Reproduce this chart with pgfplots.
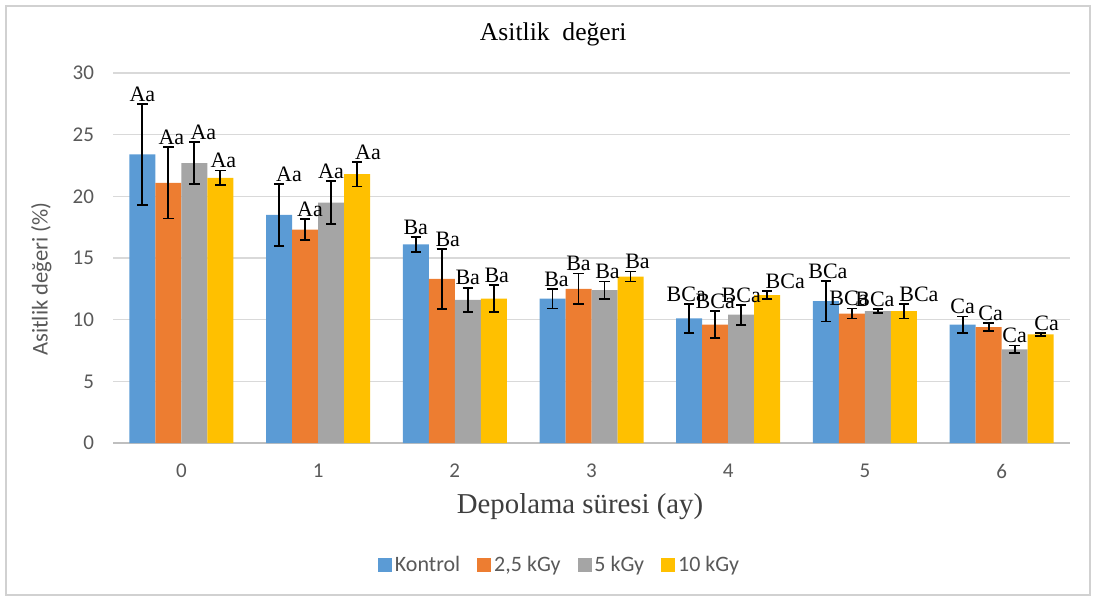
\documentclass[border=0pt]{standalone}
\usepackage{fontspec}
\setmainfont{Liberation Serif}
\newfontfamily\calfont{Carlito}
\usepackage{pgfplots}
\usepackage{pgfplotstable}
\pgfplotsset{compat=1.18}

\definecolor{cKon}{HTML}{5B9BD5}
\definecolor{cTwo}{HTML}{ED7D31}
\definecolor{cFive}{HTML}{A5A5A5}
\definecolor{cTen}{HTML}{FFC000}
\definecolor{txtgray}{HTML}{595959}

\pgfplotsset{
  sdbars/.style={
    error bars/y dir=both, error bars/y explicit,
    error bars/error bar style={line width=0.9pt, black},
    error bars/error mark options={rotate=90, mark size=2.6pt, line width=0.9pt, black},
  },
}

% columns: storage month, mean, standard deviation, letter group,
% horizontal nudge of the letter label (pt)
\pgfplotstableread{
x y e lab dx
0 23.4 4.1 Aa 0
1 18.5 2.5 Aa 5
2 16.1 0.6 Ba 0
3 11.7 0.8 Ba 2
4 10.1 1.15 BCa -1.5
5 11.5 1.65 BCa 1
6 9.6 0.65 Ca 0
}\kontrol
\pgfplotstableread{
x y e lab dx
0 21.1 2.9 Aa 1.5
1 17.3 0.85 Aa 2.5
2 13.3 2.45 Ba 3
3 12.5 1.25 Ba 0
4 9.6 1.1 BCa 0
5 10.5 0.4 BCa -1.5
6 9.4 0.35 Ca 1
}\twofive
\pgfplotstableread{
x y e lab dx
0 22.7 1.7 Aa 4.5
1 19.5 1.75 Aa 0
2 11.6 1.0 Ba 0
3 12.4 0.7 Ba 1.5
4 10.4 0.8 BCa 0
5 10.7 0.15 BCa -1.5
6 7.6 0.3 Ca 0
}\five
\pgfplotstableread{
x y e lab dx
0 21.5 0.6 Aa 1.5
1 21.8 1.0 Aa 5.5
2 11.7 1.1 Ba 1.5
3 13.5 0.4 Ba 3.5
4 12.0 0.35 BCa 9
5 10.7 0.6 BCa 7.5
6 8.8 0.15 Ca 3
}\ten

\begin{document}
\begin{tikzpicture}
\useasboundingbox (-56.5pt,-78.5pt) rectangle (491.5pt,221.5pt);
\draw[draw=black!18, line width=0.6pt] (-53.5pt,-76pt) rectangle (488.5pt,218.5pt);
\begin{axis}[
  at={(0pt,0pt)}, anchor=south west,
  scale only axis, width=478.5pt, height=185pt,
  ybar=0pt, bar width=13pt,
  xmin=-0.5, xmax=6.5, ymin=0, ymax=30,
  xtick={0,...,6}, ytick={0,5,...,30},
  axis x line*=bottom, axis y line*=left,
  axis line style={-},
  x axis line style={draw=black!25, line width=0.6pt},
  y axis line style={draw=none},
  major tick length=0pt,
  ymajorgrids, grid style={draw=black!15, line width=0.6pt},
  /pgf/number format/assume math mode=true,
  ticklabel style={font=\calfont\fontsize{10.5}{12}\selectfont, text=txtgray},
  yticklabel style={xshift=-6pt},
  xticklabel style={yshift=-7pt},
  title={Asitlik\ \ değeri},
  title style={font=\fontsize{12.8}{15}\selectfont, at={(axis description cs:0.46,1.073)}, anchor=center},
  xlabel={Depolama süresi (ay)},
  xlabel style={font=\fontsize{14.4}{16}\selectfont, text=txtgray!70!black, at={(axis description cs:0.488,-0.173)}, anchor=center},
  ylabel={Asitlik değeri (\%)},
  ylabel style={font=\calfont\fontsize{11.3}{13}\selectfont, text=txtgray, at={(axis description cs:-0.075,0.443)}, anchor=center},
  legend columns=4,
  legend style={at={(axis description cs:0.467,-0.33)}, anchor=center, draw=none,
    font=\calfont\fontsize{11}{13}\selectfont, text=txtgray,
    nodes={inner xsep=1.5pt},
    /tikz/every even column/.append style={column sep=7pt}},
  legend image code/.code={\fill[#1, draw=none] (0pt,-3.5pt) rectangle (7pt,3.5pt);},
  nodes near coords,
  point meta=explicit symbolic,
  visualization depends on={\thisrow{e} \as \err},
  visualization depends on={\thisrow{dx} \as \dx},
  nodes near coords style={font=\fontsize{11}{12}\selectfont, text=black, anchor=south, inner sep=1pt,
    yshift=\err*6.1667pt, xshift=\dx*1pt},
]
\addplot[draw=none, fill=cKon, sdbars] table[x=x, y=y, y error=e, meta=lab] {\kontrol};
\addplot[draw=none, fill=cTwo, sdbars] table[x=x, y=y, y error=e, meta=lab] {\twofive};
\addplot[draw=none, fill=cFive, sdbars] table[x=x, y=y, y error=e, meta=lab] {\five};
\addplot[draw=none, fill=cTen, sdbars] table[x=x, y=y, y error=e, meta=lab] {\ten};
\legend{Kontrol, {2,5 kGy}, 5 kGy, 10 kGy}
\end{axis}
\end{tikzpicture}
\end{document}
